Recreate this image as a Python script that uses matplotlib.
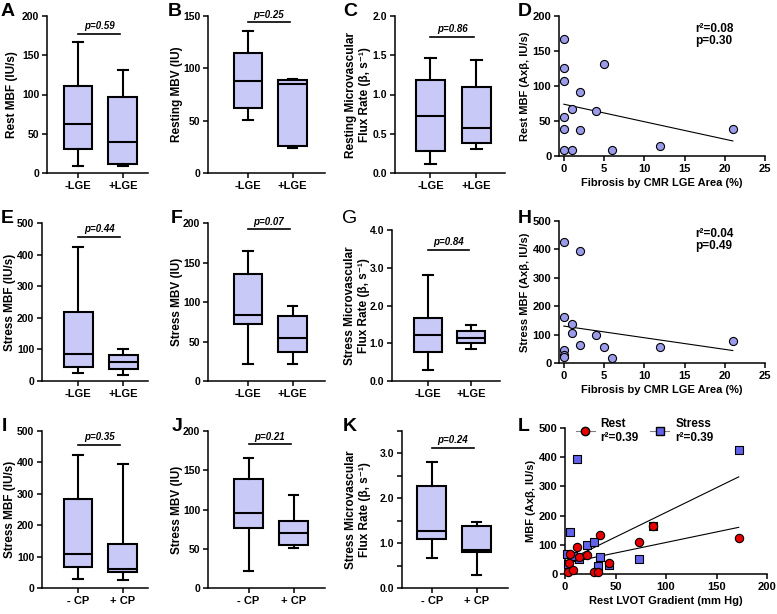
import matplotlib
matplotlib.use("Agg")
import matplotlib.pyplot as plt
from matplotlib.lines import Line2D
from matplotlib.ticker import FormatStrFormatter, MultipleLocator
import numpy as np

plt.rcParams['font.family'] = ['Liberation Sans', 'DejaVu Sans']
plt.rcParams['font.weight'] = 'bold'
plt.rcParams['axes.labelweight'] = 'bold'
plt.rcParams['axes.linewidth'] = 1.1

# groups
lge_groups = ["-LGE", "+LGE"]
cp_groups = ["- CP", "+ CP"]

# box stats per group: whisker low, Q1, median, Q3, whisker high
rest_mbf_lge = [[9, 31, 62, 111, 167], [9, 12, 39, 97, 131]]
rest_mbv_lge = [[51, 62, 88, 115, 136], [24, 26, 85, 89, 90]]
rest_flux_lge = [[0.11, 0.28, 0.72, 1.18, 1.47], [0.30, 0.38, 0.57, 1.09, 1.44]]
stress_mbf_lge = [[25, 45, 87, 218, 425], [18, 38, 60, 82, 100]]
stress_mbv_lge = [[22, 72, 84, 135, 165], [21, 37, 54, 82, 95]]
stress_flux_lge = [[0.29, 0.77, 1.22, 1.68, 2.82], [0.86, 1.00, 1.14, 1.32, 1.48]]
stress_mbf_cp = [[30, 68, 108, 282, 425], [25, 52, 62, 140, 395]]
stress_mbv_cp = [[22, 76, 95, 139, 165], [51, 55, 70, 85, 118]]
stress_flux_cp = [[0.66, 1.09, 1.27, 2.27, 2.82], [0.29, 0.80, 0.85, 1.38, 1.48]]

# p values and the height of the comparison bar
p_labels = ["p=0.59", "p=0.25", "p=0.86", "p=0.44", "p=0.07", "p=0.84",
            "p=0.35", "p=0.21", "p=0.24"]
p_heights = [177, 144, 1.73, 456, 192, 3.48, 455, 183, 3.12]

# fibrosis vs MBF
fib_rest_x = [0, 0, 0, 0, 0, 0, 1, 1, 2, 2, 4, 5, 6, 12, 21]
fib_rest_y = [167, 125, 107, 56, 38, 9, 67, 9, 92, 37, 64, 131, 8, 14, 39]
fib_rest_fit = [74, -2.5]          # intercept, slope
fib_rest_stats = "r\u00b2=0.08\np=0.30"
fib_stress_x = [0, 0, 0, 0, 0, 1, 1, 2, 2, 4, 5, 6, 12, 21]
fib_stress_y = [425, 161, 47, 28, 22, 139, 106, 395, 62, 97, 55, 16, 56, 77]
fib_stress_fit = [130, -4.1]
fib_stress_stats = "r\u00b2=0.04\np=0.49"

# LVOT gradient vs MBF
lvot_rest_x = [5, 4, 3, 8, 11.5, 14, 21.5, 34.5, 28.5, 33, 44, 73.5, 87, 172]
lvot_rest_y = [68, 38, 8, 15, 93, 57, 64, 132, 8, 8, 39, 108, 166, 125]
lvot_rest_fit = [36, 0.72]
lvot_stress_x = [11.5, 5, 22, 28.5, 34.5, 73.5, 87, 44, 33, 14, 7.5, 1.5, 3, 172]
lvot_stress_y = [395, 143, 101, 110, 58, 51, 166, 31, 27, 50, 61, 67, 35, 424]
lvot_stress_fit = [42, 1.69]

BOX_FACE = '#C9C9F7'
DOT_FACE = '#9B9BEB'
SQ_FACE = '#6262EC'
RED = '#E60000'

W, H = 777, 614
fig = plt.figure(figsize=(W / 100, H / 100), dpi=100)


def add_ax(left, top, right, bottom):
    return fig.add_axes([left / W, 1 - bottom / H, (right - left) / W, (bottom - top) / H])


def style(ax):
    for s in ['top', 'right']:
        ax.spines[s].set_visible(False)
    ax.tick_params(direction='out', length=3.5, width=1.1, labelsize=8, pad=2)


def box_panel(rect, data, groups, xlim, ylim, yticks, ylabel, label_dx, p_i,
              fmt=None, minor=None):
    ax = add_ax(*rect)
    stats = [dict(whislo=d[0], q1=d[1], med=d[2], q3=d[3], whishi=d[4]) for d in data]
    lw = 1.5
    ax.bxp(stats, positions=[1, 2], widths=0.64, capwidths=0.22, patch_artist=True,
           showfliers=False,
           boxprops=dict(facecolor=BOX_FACE, edgecolor='black', linewidth=lw),
           medianprops=dict(color='black', linewidth=lw),
           whiskerprops=dict(color='black', linewidth=lw),
           capprops=dict(color='black', linewidth=lw))
    ax.set_xlim(*xlim)
    ax.set_ylim(*ylim)
    ax.set_yticks(yticks)
    if fmt:
        ax.yaxis.set_major_formatter(FormatStrFormatter(fmt))
    if minor:
        ax.yaxis.set_minor_locator(MultipleLocator(minor))
        ax.tick_params(axis='y', which='minor', length=3.5, width=1.1)
    ax.set_xticks([1, 2], groups)
    style(ax)
    ax.tick_params(axis='y', labelsize=7.5)
    ax.set_ylabel(ylabel, fontsize=8.5, va='center', ha='center')
    width_px = rect[2] - rect[0]
    ax.yaxis.set_label_coords(-label_dx / width_px, 0.5)
    py = p_heights[p_i]
    ax.plot([1, 1.94], [py, py], color='black', lw=1.2, clip_on=False)
    ax.annotate(p_labels[p_i], (1.47, py), xytext=(0, 2), textcoords='offset points',
                ha='center', va='bottom', fontsize=7, style='italic', weight='bold')
    return ax


flux_label_rest = "Resting Microvascular\nFlux Rate (\u03b2, s\u207b\u00b9)"
flux_label_stress = "Stress Microvascular\nFlux Rate (\u03b2, s\u207b\u00b9)"

# row 1
box_panel((47, 16, 148, 173), rest_mbf_lge, lge_groups, (0.31, 2.56), (0, 200),
          [0, 50, 100, 150, 200], "Rest MBF (IU/s)", 35, 0)
box_panel((208, 16, 325, 173), rest_mbv_lge, lge_groups, (0.10, 2.73), (0, 150),
          [0, 50, 100, 150], "Resting MBV (IU)", 31, 1)
box_panel((395, 16, 505, 173), rest_flux_lge, lge_groups, (0.23, 2.62), (0, 2.0),
          [0, 0.5, 1.0, 1.5, 2.0], flux_label_rest, 37, 2, fmt='%.1f')
# row 2
box_panel((42, 223, 148, 381), stress_mbf_lge, lge_groups, (0.2, 2.55), (0, 500),
          [0, 100, 200, 300, 400, 500], "Stress MBF (IU/s)", 32, 3)
box_panel((208, 223, 325, 381), stress_mbv_lge, lge_groups, (0.10, 2.73), (0, 200),
          [0, 50, 100, 150, 200], "Stress MBV (IU)", 31, 4)
box_panel((392, 230, 500, 381), stress_flux_lge, lge_groups, (0.16, 2.67), (0, 4.0),
          [0, 1.0, 2.0, 3.0, 4.0], flux_label_stress, 35, 5, fmt='%.1f')
# row 3
box_panel((42, 431, 148, 588), stress_mbf_cp, cp_groups, (0.2, 2.56), (0, 500),
          [0, 100, 200, 300, 400, 500], "Stress MBF (IU/s)", 32, 6)
box_panel((208, 431, 325, 588), stress_mbv_cp, cp_groups, (0.10, 2.70), (0, 200),
          [0, 50, 100, 150, 200], "Stress MBV (IU)", 31, 7)
box_panel((402, 431, 508, 588), stress_flux_cp, cp_groups, (0.34, 2.70), (0, 3.5),
          [0, 1.0, 2.0, 3.0], flux_label_stress, 44, 8, fmt='%.1f', minor=0.5)


def fib_panel(rect, xs, ys, fit, stats, ylim, yticks, ylabel):
    ax = add_ax(*rect)
    x0, x1 = min(xs), max(xs)
    ax.plot([x0, x1], [fit[0] + fit[1] * x0, fit[0] + fit[1] * x1], color='black', lw=0.8)
    ax.scatter(xs, ys, s=34, facecolor=DOT_FACE, edgecolor='black', linewidth=0.8,
               zorder=3, clip_on=False)
    ax.set_xlim(-0.6, 25)
    ax.set_ylim(*ylim)
    ax.set_xticks([0, 5, 10, 15, 20, 25])
    ax.set_yticks(yticks)
    style(ax)
    ax.set_ylabel(ylabel, fontsize=8, labelpad=2)
    ax.set_xlabel("Fibrosis by CMR LGE Area (%)", fontsize=8, labelpad=3)
    ax.text(0.66, 0.95, stats, transform=ax.transAxes, fontsize=8.5, va='top',
            ha='left', linespacing=1.0)
    return ax


fib_panel((559, 16, 765, 156), fib_rest_x, fib_rest_y, fib_rest_fit, fib_rest_stats,
          (0, 200), [0, 50, 100, 150, 200], "Rest MBF (Ax\u03b2, IU/s)")
fib_panel((559, 221, 765, 363), fib_stress_x, fib_stress_y, fib_stress_fit, fib_stress_stats,
          (0, 500), [0, 100, 200, 300, 400, 500], "Stress MBF (Ax\u03b2, IU/s)")

# panel L
ax = add_ax(565, 428, 767, 574)
for xs, fit in [(lvot_rest_x, lvot_rest_fit), (lvot_stress_x, lvot_stress_fit)]:
    x0, x1 = min(xs), max(xs)
    ax.plot([x0, x1], [fit[0] + fit[1] * x0, fit[0] + fit[1] * x1], color='black', lw=0.8)
ax.scatter(lvot_stress_x, lvot_stress_y, s=36, marker='s', facecolor=SQ_FACE,
           edgecolor='black', linewidth=0.8, zorder=3, clip_on=False)
ax.scatter(lvot_rest_x, lvot_rest_y, s=36, marker='o', facecolor=RED,
           edgecolor='black', linewidth=0.8, zorder=4, clip_on=False)
ax.set_xlim(0, 200)
ax.set_ylim(0, 500)
ax.set_xticks([0, 50, 100, 150, 200])
ax.set_yticks([0, 100, 200, 300, 400, 500])
style(ax)
ax.set_ylabel("MBF (Ax\u03b2, IU/s)", fontsize=8, labelpad=2)
ax.set_xlabel("Rest LVOT Gradient (mm Hg)", fontsize=8, labelpad=3)
handles = [Line2D([0], [0], color='gray', lw=0.8, marker='o', markersize=6,
                  markerfacecolor=RED, markeredgecolor='black'),
           Line2D([0], [0], color='gray', lw=0.8, marker='s', markersize=6,
                  markerfacecolor=SQ_FACE, markeredgecolor='black')]
ax.legend(handles, ["Rest\nr\u00b2=0.39", "Stress\nr\u00b2=0.39"], ncol=2, frameon=False,
          loc='upper left', bbox_to_anchor=(0.0, 1.14), fontsize=8.5, handlelength=1.6,
          columnspacing=1.0, handletextpad=0.5, labelspacing=0.2)

# panel letters
letters = [("A", 1, 3), ("B", 168, 3), ("C", 343, 3), ("D", 518, 3),
           ("E", 1, 210), ("F", 171, 210), ("G", 342, 210), ("H", 518, 210),
           ("I", 2, 418), ("J", 172, 418), ("K", 343, 418), ("L", 518, 418)]
for t, x, y in letters:
    fig.text(x / W, 1 - y / H, t, fontsize=14, va='top', ha='left',
             weight='normal' if t == 'G' else 'bold')

fig.savefig("out.png", dpi=100)
